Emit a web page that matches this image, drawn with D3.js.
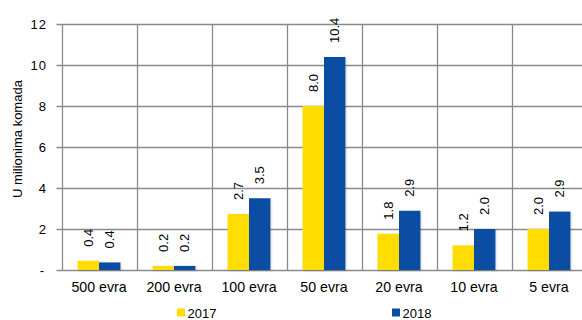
<!DOCTYPE html>
<html>
<head>
<meta charset="utf-8">
<script src="https://cdn.jsdelivr.net/npm/d3@7"></script>
<style>
  body { margin: 0; background: #fff; }
  text { font-family: "Liberation Sans", Arial, sans-serif; fill: #000; }
</style>
</head>
<body>
<div id="chart"></div>
<script>
let categories = ["500 evra", "200 evra", "100 evra", "50 evra", "20 evra", "10 evra", "5 evra"];
let values2017 = [0.45, 0.2, 2.73, 8.0, 1.77, 1.2, 2.0];
let values2018 = [0.37, 0.2, 3.5, 10.39, 2.89, 2.0, 2.85];
let labels2017 = ["0.4", "0.2", "2.7", "8.0", "1.8", "1.2", "2.0"];
let labels2018 = ["0.4", "0.2", "3.5", "10.4", "2.9", "2.0", "2.9"];
let series = ["2017", "2018"];
let yTicks = [0, 2, 4, 6, 8, 10, 12];

let w = 582;
let h = 320;
let plotLeft = 61.5, plotTop = 24, plotBottom = 270, plotRight = 586.5;

let color = d3.scaleOrdinal().domain(series).range(["#ffdd00", "#0a4da2"]);

let svg = d3.select("#chart").append("svg").attr("width", w).attr("height", h);

let x = d3.scaleBand().domain(categories).range([plotLeft, plotRight]);
let x1 = d3.scaleBand().domain(series).range([0, x.bandwidth()]).paddingOuter(0.75).paddingInner(0);
let y = d3.scaleLinear().domain([0, 12]).range([plotBottom, plotTop]);

// horizontal gridlines with small ticks
svg.append("g")
  .selectAll("line")
  .data(yTicks)
  .enter()
  .append("line")
  .attr("x1", plotLeft - 5)
  .attr("x2", plotRight)
  .attr("y1", d => Math.round(y(d)) + 0.5)
  .attr("y2", d => Math.round(y(d)) + 0.5)
  .attr("stroke", "#8a8a8a")
  .attr("stroke-width", 1.3);

// vertical gridlines between categories
svg.append("g")
  .selectAll("line")
  .data(categories.concat(["end"]))
  .enter()
  .append("line")
  .attr("x1", (d, i) => Math.round(plotLeft + i * x.bandwidth()) + 0.5)
  .attr("x2", (d, i) => Math.round(plotLeft + i * x.bandwidth()) + 0.5)
  .attr("y1", plotTop)
  .attr("y2", plotBottom)
  .attr("stroke", "#8a8a8a")
  .attr("stroke-width", 1.3);

// y tick labels
svg.append("g")
  .selectAll("text")
  .data(yTicks)
  .enter()
  .append("text")
  .attr("x", d => d === 0 ? 45 : 47)
  .attr("y", d => y(d) + 4.5)
  .attr("text-anchor", "end")
  .style("font-size", "13px")
  .style("letter-spacing", "1px")
  .text(d => d === 0 ? "-" : d);

// y axis title
svg.append("text")
  .attr("transform", "translate(22,139) rotate(-90)")
  .attr("text-anchor", "middle")
  .style("font-size", "13px")
  .text("U milionima komada");

// bars
let rows = categories.map((c, i) => ({
  cat: c,
  vals: [
    { s: "2017", v: values2017[i], l: labels2017[i] },
    { s: "2018", v: values2018[i], l: labels2018[i] }
  ]
}));

let group = svg.append("g")
  .selectAll("g")
  .data(rows)
  .enter()
  .append("g")
  .attr("transform", d => `translate(${x(d.cat)},0)`);

group.selectAll("rect")
  .data(d => d.vals)
  .enter()
  .append("rect")
  .attr("x", d => x1(d.s))
  .attr("width", x1.bandwidth())
  .attr("y", d => y(d.v))
  .attr("height", d => y(0) - y(d.v))
  .attr("fill", d => color(d.s))
  .style("filter", "drop-shadow(1px 1px 1px rgba(0,0,0,0.15))");

// value labels, rotated
group.selectAll("text")
  .data(d => d.vals)
  .enter()
  .append("text")
  .attr("transform", d => `translate(${x1(d.s) + x1.bandwidth() / 2},${y(d.v) - 14}) rotate(-90)`)
  .attr("dy", "0.35em")
  .attr("text-anchor", "start")
  .style("font-size", "13px")
  .text(d => d.l);

// category labels
svg.append("g")
  .selectAll("text")
  .data(categories)
  .enter()
  .append("text")
  .attr("x", d => x(d) + x.bandwidth() / 2)
  .attr("y", 292)
  .attr("text-anchor", "middle")
  .style("font-size", "14.2px")
  .text(d => d);

// legend
let legendX = [177, 392];
let legend = svg.append("g")
  .selectAll("g")
  .data(series)
  .enter()
  .append("g")
  .attr("transform", (d, i) => `translate(${legendX[i]},308.5)`);

legend.append("rect")
  .attr("width", 8)
  .attr("height", 8)
  .attr("fill", d => color(d));

legend.append("text")
  .attr("x", 10.5)
  .attr("y", 9.3)
  .style("font-size", "13px")
  .text(d => d);
</script>
</body>
</html>
